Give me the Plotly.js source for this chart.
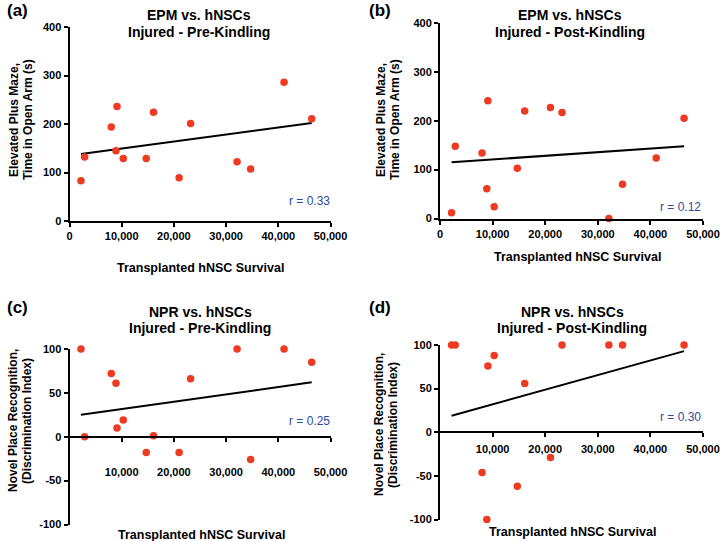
<!DOCTYPE html>
<html>
<head>
<meta charset="utf-8">
<script src="https://cdn.plot.ly/plotly-3.0.1.min.js"></script>
<style>html,body{margin:0;padding:0;background:#fff;}#chart{width:720px;height:541px;}</style>
</head>
<body>
<div id="chart"></div>
<script>
// ---- Data ----
const survival = [2200, 2900, 8000, 8900, 9100, 10300, 14700, 16100, 21000, 23200, 32100, 34700, 41100, 46400];
const epmPre   = [83, 132, 194, 145, 236, 129, 129, 224, 89, 201, 122, 107, 286, 211];
const epmPost  = [12, 148, 134, 61, 241, 24, 103, 220, 227, 217, 0, 70, 124, 205];
const nprPre   = [100, 0, 72, 61, 10, 19, -18, 1, -18, 66, 100, -26, 100, 85];
const nprPost  = [100, 100, -46, -100, 76, 88, -62, 56, -29, 100, 100, 100, null, 100];

const fitX       = [2200, 46400];
const fitEpmPre  = [138, 202];
const fitEpmPost = [115, 148];
const fitNprPre  = [25, 62];
const fitNprPost = [19, 93];

const rLabels = ["r = 0.33", "r = 0.12", "r = 0.25", "r = 0.30"];
const panelLabels = ["(a)", "(b)", "(c)", "(d)"];
const titleLine1 = ["EPM vs. hNSCs", "EPM vs. hNSCs", "NPR vs. hNSCs", "NPR vs. hNSCs"];
const titleLine2 = ["Injured - Pre-Kindling", "Injured - Post-Kindling", "Injured - Pre-Kindling", "Injured - Post-Kindling"];
const yTitleEpm = ["Elevated Plus Maze,", "Time in Open Arm (s)"];
const yTitleNpr = ["Novel Place Recognition,", "(Discrimination Index)"];
const xTitle = "Transplanted hNSC Survival";
const xTicksTop = [0, 10000, 20000, 30000, 40000, 50000];
const xTickTextTop = ["0", "10,000", "20,000", "30,000", "40,000", "50,000"];
const xTicksBottom = [10000, 20000, 30000, 40000, 50000];
const xTickTextBottom = ["10,000", "20,000", "30,000", "40,000", "50,000"];
const yTicksEpm = [0, 100, 200, 300, 400];
const yTickTextEpm = ["0", "100", "200", "300", "400"];
const yTicksNpr = [-100, -50, 0, 50, 100];
const yTickTextNpr = ["-100", "-50", "0", "50", "100"];

// ---- Layout helpers ----
const W = 720, H = 541;
const px = x => x / W;
const py = y => 1 - y / H;
const FONT = "Liberation Sans, Arial, sans-serif";
const dotColor = "#ef3a22";
const rColor = "#2c4d98";
const b = s => '<b>' + s + '</b>';

const yDataSets = [epmPre, epmPost, nprPre, nprPost];
const fitSets = [fitEpmPre, fitEpmPost, fitNprPre, fitNprPost];

const traces = [];
for (let i = 0; i < 4; i++) {
  const ax = i === 0 ? '' : String(i + 1);
  traces.push({
    type: 'scatter', mode: 'lines', x: fitX, y: fitSets[i],
    xaxis: 'x' + ax, yaxis: 'y' + ax, cliponaxis: false,
    line: {color: '#000', width: 2}, hoverinfo: 'skip', showlegend: false
  });
  traces.push({
    type: 'scatter', mode: 'markers', x: survival, y: yDataSets[i],
    xaxis: 'x' + ax, yaxis: 'y' + ax, cliponaxis: false,
    marker: {color: dotColor, size: 7.5}, hoverinfo: 'skip', showlegend: false
  });
}

const tickFont = {family: FONT, size: 11, color: '#000'};
function xAxis(dom, tickvals, ticktext, extra) {
  return Object.assign({
    domain: dom, range: [0, 50000], tickmode: 'array', tickvals: tickvals, ticktext: ticktext.map(b),
    showline: true, linewidth: 2, linecolor: '#000', ticks: 'outside', ticklen: 4, tickwidth: 2,
    tickcolor: '#000', showgrid: false, zeroline: false, tickfont: tickFont, fixedrange: true
  }, extra || {});
}
function yAxis(dom, range, tickvals, ticktext, anchor) {
  return {
    domain: dom, range: range, tickmode: 'array', tickvals: tickvals, ticktext: ticktext.map(b), anchor: anchor,
    showline: true, linewidth: 2, linecolor: '#000', ticks: 'outside', ticklen: 4, tickwidth: 2,
    tickcolor: '#000', showgrid: false, zeroline: false, tickfont: tickFont, fixedrange: true
  };
}

// panel geometry (pixels)
const geo = [
  {x0: 69.5, x1: 330.5, yTop: 27, yBot: 221},
  {x0: 440, x1: 703, yTop: 23, yBot: 218.5},
  {x0: 69.5, x1: 330.5, yTop: 349, yBot: 524.5},
  {x0: 440, x1: 703, yTop: 345, yBot: 519.5}
];
const xd = g => [px(g.x0), px(g.x1)];
const yd = g => [py(g.yBot), py(g.yTop)];

const layout = {
  width: W, height: H, margin: {l: 0, r: 0, t: 0, b: 0},
  paper_bgcolor: '#fff', plot_bgcolor: 'rgba(0,0,0,0)',
  font: {family: FONT, color: '#000'},
  showlegend: false,
  xaxis:  xAxis(xd(geo[0]), xTicksTop, xTickTextTop, {anchor: 'y'}),
  yaxis:  yAxis(yd(geo[0]), [0, 400], yTicksEpm, yTickTextEpm, 'x'),
  xaxis2: xAxis(xd(geo[1]), xTicksTop, xTickTextTop, {anchor: 'y2'}),
  yaxis2: yAxis(yd(geo[1]), [0, 400], yTicksEpm, yTickTextEpm, 'x2'),
  xaxis3: xAxis(xd(geo[2]), xTicksBottom, xTickTextBottom, {anchor: 'free', position: py((geo[2].yTop + geo[2].yBot) / 2), ticklabelstandoff: 21}),
  yaxis3: yAxis(yd(geo[2]), [-100, 100], yTicksNpr, yTickTextNpr, 'x3'),
  xaxis4: xAxis(xd(geo[3]), xTicksBottom, xTickTextBottom, {anchor: 'free', position: py((geo[3].yTop + geo[3].yBot) / 2), ticklabelstandoff: 3}),
  yaxis4: yAxis(yd(geo[3]), [-100, 100], yTicksNpr, yTickTextNpr, 'x4'),
  annotations: []
};

function ann(text, x, y, opts) {
  layout.annotations.push(Object.assign({
    text: text, xref: 'paper', yref: 'paper', x: px(x), y: py(y),
    showarrow: false, xanchor: 'center', yanchor: 'middle'
  }, opts));
}

const titleFont = {family: FONT, size: 14, color: '#000'};
const axTitleFont = {family: FONT, size: 12.5, color: '#000'};
const yTitleFont = {family: FONT, size: 12, color: '#000'};
const labelFont = {family: FONT, size: 17, color: '#000'};
const rFont = {family: FONT, size: 12, color: rColor};

// titles
const titlePos = [[199, 15, 32], [570, 15, 32], [200, 312, 328], [572, 312, 328]];
titlePos.forEach((p, i) => {
  ann(b(titleLine1[i]), p[0], p[1], {font: titleFont});
  ann(b(titleLine2[i]), p[0], p[2], {font: titleFont});
});
// panel labels
const labelPos = [[5, 10], [367, 10], [5, 307], [367, 307]];
labelPos.forEach((p, i) => ann(b(panelLabels[i]), p[0], p[1], {font: labelFont, xanchor: 'left'}));
// x titles
const xTitlePos = [[200, 268], [577, 257], [201, 535], [572, 532]];
xTitlePos.forEach(p => ann(b(xTitle), p[0], p[1], {font: axTitleFont}));
// y titles
const yTitlePos = [[14, 28, 120], [381, 395, 120], [13, 27, 421], [379, 393, 425]];
yTitlePos.forEach((p, i) => {
  const t = i < 2 ? yTitleEpm : yTitleNpr;
  ann(b(t[0]), p[0], p[2], {font: yTitleFont, textangle: -90});
  ann(b(t[1]), p[1], p[2], {font: yTitleFont, textangle: -90});
});
// r values
const rPos = [[332, 201], [703, 207], [332, 421], [703, 417]];
rPos.forEach((p, i) => ann(rLabels[i], p[0], p[1], {font: rFont, xanchor: 'right'}));

Plotly.newPlot('chart', traces, layout, {staticPlot: true, displayModeBar: false});
</script>
</body>
</html>
